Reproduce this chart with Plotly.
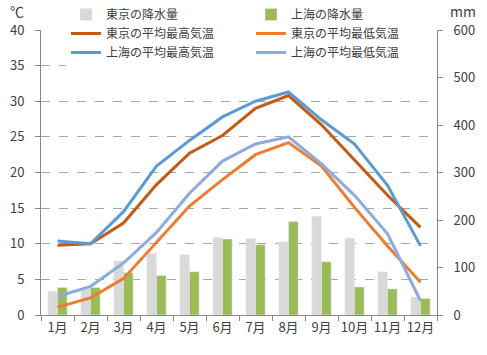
import plotly.graph_objects as go

months = ["1月", "2月", "3月", "4月", "5月", "6月", "7月", "8月", "9月", "10月", "11月", "12月"]
tokyo_rain = [50, 56, 114, 130, 127, 163, 161, 154, 208, 162, 91, 38]
shanghai_rain = [58, 58, 89, 83, 91, 160, 148, 197, 112, 59, 55, 35]
tokyo_max = [9.8, 10.0, 12.9, 18.3, 22.7, 25.2, 29.0, 30.8, 26.7, 21.8, 16.8, 12.3]
tokyo_min = [1.1, 2.4, 5.1, 10.2, 15.3, 19.0, 22.5, 24.2, 20.9, 15.1, 9.7, 4.6]
shanghai_max = [10.4, 10.0, 14.5, 20.9, 24.5, 27.8, 30.0, 31.3, 27.4, 24.0, 18.2, 9.7]
shanghai_min = [2.6, 4.0, 7.3, 11.6, 17.1, 21.6, 24.0, 25.0, 21.2, 16.8, 11.4, 2.0]

FONT = "Noto Sans CJK JP, Noto Sans, sans-serif"
TXT = "#404040"
AX = "#888888"

fig = go.Figure()
fig.add_trace(go.Bar(x=months, y=tokyo_rain, name="東京の降水量", marker_color="#D9D9D9", yaxis="y"))
fig.add_trace(go.Bar(x=months, y=shanghai_rain, name="上海の降水量", marker_color="#9BBB59", yaxis="y"))
fig.add_trace(go.Scatter(x=months, y=tokyo_max, name="東京の平均最高気温", mode="lines",
                         line=dict(color="#C55A11", width=3), yaxis="y2"))
fig.add_trace(go.Scatter(x=months, y=tokyo_min, name="東京の平均最低気温", mode="lines",
                         line=dict(color="#ED7D31", width=3), yaxis="y2"))
fig.add_trace(go.Scatter(x=months, y=shanghai_max, name="上海の平均最高気温", mode="lines",
                         line=dict(color="#5B9BD5", width=3), yaxis="y2"))
fig.add_trace(go.Scatter(x=months, y=shanghai_min, name="上海の平均最低気温", mode="lines",
                         line=dict(color="#8FAADC", width=3), yaxis="y2"))

fig.update_layout(
    width=487, height=355,
    margin=dict(l=41, r=50, t=30, b=40, autoexpand=False),
    paper_bgcolor="white", plot_bgcolor="white",
    font=dict(family=FONT, size=13, color=TXT),
    barmode="group", bargap=0.415, bargroupgap=0,
    showlegend=True,
    legend=dict(orientation="h", xref="container", yref="container",
                x=66/487, y=1.0, xanchor="left", yanchor="top",
                entrywidth=140, entrywidthmode="pixels",
                bgcolor="white", font=dict(size=12, color=TXT),
                traceorder="normal", itemwidth=30),
    xaxis=dict(type="category", showline=True, linecolor=AX, linewidth=1,
               ticks="outside", ticklen=5, tickcolor=AX, tickson="boundaries",
               showgrid=False, tickangle=0, tickfont=dict(size=13, color=TXT)),
    yaxis=dict(side="right", range=[0, 600], dtick=100, showgrid=False,
               showline=True, linecolor=AX, linewidth=1, ticks="outside",
               ticklen=5, tickcolor=AX, ticklabelstandoff=8,
               tickfont=dict(size=13, color=TXT), zeroline=False),
    yaxis2=dict(side="left", overlaying="y", range=[0, 40], dtick=5,
                showgrid=True, gridcolor="#A6A6A6", griddash="dash", gridwidth=1,
                showline=True, linecolor=AX, linewidth=1, ticks="outside",
                ticklen=5, tickcolor=AX, ticklabelstandoff=8,
                tickfont=dict(size=13, color=TXT), zeroline=False),
    annotations=[
        dict(text="℃", xref="paper", yref="paper", x=-0.06, y=1.0, yshift=19,
             xanchor="center", yanchor="middle", showarrow=False,
             font=dict(size=14, color=TXT)),
        dict(text="mm", xref="paper", yref="paper", x=1.028, y=1.0, yshift=19,
             xanchor="left", yanchor="middle", showarrow=False,
             font=dict(size=14, color=TXT)),
    ],
)

fig.write_html("out.html", config={"displayModeBar": False},
               post_script="document.body.style.margin='0';")
